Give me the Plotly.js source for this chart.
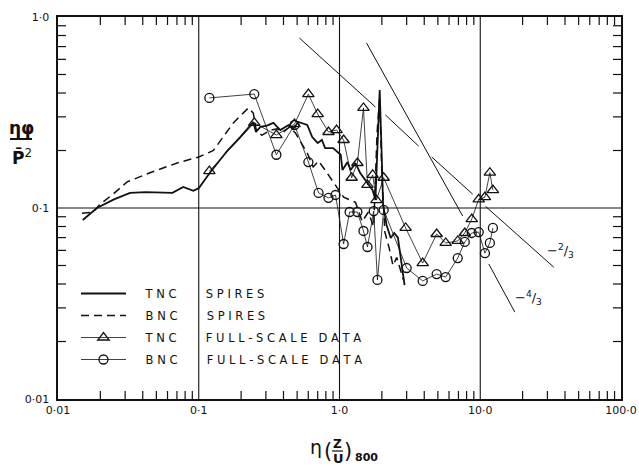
<!DOCTYPE html>
<html><head><meta charset="utf-8">
<script src="https://cdn.plot.ly/plotly-3.0.1.min.js"></script>
<style>html,body{margin:0;padding:0;background:#fff}#chart{width:639px;height:466px}</style>
</head><body><div id="chart"></div>
<script>
// ---- data (log-log) ----
const tncSpiresX = [0.015,0.0189,0.025,0.0325,0.042,0.053,0.065,0.0776,0.0915,0.1,0.12,0.16,0.197,0.244,0.255,0.274,0.305,0.339,0.38,0.434,0.47,0.51,0.59,0.64,0.70,0.75,0.79,0.90,1.02,1.05,1.14,1.2,1.3,1.4,1.58,1.72,1.80,1.87,1.93,1.99,2.04,2.16,2.31,2.45,2.6,2.75,2.9];
const tncSpiresY = [0.0865,0.1,0.111,0.12,0.121,0.121,0.12,0.129,0.123,0.127,0.153,0.2,0.235,0.282,0.25,0.266,0.27,0.279,0.256,0.272,0.26,0.282,0.272,0.235,0.219,0.227,0.206,0.206,0.19,0.158,0.174,0.158,0.172,0.153,0.135,0.124,0.11,0.22,0.415,0.2,0.104,0.0815,0.0697,0.074,0.07,0.052,0.0395];

const bncSpiresX = [0.0148,0.0177,0.0197,0.0242,0.031,0.045,0.0703,0.1,0.127,0.176,0.225,0.244,0.255,0.28,0.32,0.36,0.40,0.44,0.486,0.59,0.65,0.71,0.79,0.86,1.07,1.3,1.45,1.6,1.75,1.85,1.93,2.0,2.1,2.25,2.4,2.55,2.7,2.85];
const bncSpiresY = [0.094,0.095,0.104,0.117,0.137,0.153,0.172,0.185,0.2,0.279,0.334,0.314,0.26,0.24,0.255,0.26,0.25,0.265,0.247,0.194,0.164,0.176,0.158,0.144,0.114,0.107,0.085,0.095,0.08,0.25,0.38,0.15,0.075,0.062,0.05,0.055,0.048,0.042];

const tncFullX = [0.119,0.248,0.356,0.479,0.601,0.70,0.835,0.953,1.07,1.22,1.34,1.48,1.58,1.72,1.83,2.06,2.95,3.90,4.90,5.68,6.92,7.76,8.7,9.75,10.8,11.7,12.3];
const tncFullY = [0.156,0.279,0.241,0.275,0.395,0.31,0.25,0.256,0.227,0.144,0.172,0.334,0.132,0.149,0.110,0.144,0.0786,0.0515,0.0731,0.0656,0.0672,0.074,0.0875,0.111,0.114,0.153,0.124];

const bncFullX = [0.119,0.248,0.356,0.479,0.601,0.71,0.835,0.937,1.07,1.18,1.34,1.48,1.58,1.75,1.86,2.06,3.0,3.9,4.9,5.68,6.92,7.76,8.7,9.75,10.8,11.7,12.3];
const bncFullY = [0.377,0.395,0.19,0.272,0.174,0.12,0.113,0.117,0.0648,0.0953,0.0953,0.0758,0.0625,0.0964,0.042,0.0977,0.0485,0.0415,0.0451,0.0435,0.0547,0.0664,0.074,0.0748,0.058,0.0656,0.0786];

// reference slope lines (segment end points, broken where they cross the data)
const slope23X = [0.519,1.80,null,2.12,3.65,null,4.52,8.85,null,10.9,33.3];
const slope23Y = [0.776,0.338,null,0.307,0.211,null,0.185,0.118,null,0.102,0.049];
const slope43X = [1.556,7.50,null,11.5,17.6];
const slope43Y = [0.731,0.0908,null,0.0509,0.0285];

const xDecades = [0.01,0.1,1,10,100];
const xDecadeText = ['0·01','0·1','1·0','10·0','100·0'];
const yDecades = [0.01,0.1,1];
const yDecadeText = ['0·01','0·1','1·0'];

const NB = '\u00a0';
const lead = NB.repeat(4);
const legendNames = [
  lead+'T N C'+NB.repeat(8)+'S P I R E S',
  lead+'B N C'+NB.repeat(8)+'S P I R E S',
  lead+'T N C'+NB.repeat(8)+'F U L L - S C A L E'+NB.repeat(3)+'D A T A',
  lead+'B N C'+NB.repeat(8)+'F U L L - S C A L E'+NB.repeat(3)+'D A T A'
];

const ink = '#111';
const F = '"DejaVu Sans", "Liberation Sans", sans-serif';

const traces = [
  {x:tncSpiresX,y:tncSpiresY,mode:'lines',name:legendNames[0],legendgroup:'a',line:{color:ink,width:1.8}},
  {x:bncSpiresX,y:bncSpiresY,mode:'lines',name:legendNames[1],legendgroup:'b',line:{color:ink,width:1.5,dash:'8px,5px'}},
  {x:tncFullX,y:tncFullY,mode:'lines+markers',name:legendNames[2],legendgroup:'c',line:{color:ink,width:0.8},
    marker:{symbol:'triangle-up-open',size:10,color:ink,line:{width:1.3,color:ink}}},
  {x:bncFullX,y:bncFullY,mode:'lines+markers',name:legendNames[3],legendgroup:'d',line:{color:ink,width:0.8},
    marker:{symbol:'circle-open',size:9,color:ink,line:{width:1.3,color:ink}}},
  {x:slope23X,y:slope23Y,mode:'lines',showlegend:false,line:{color:ink,width:1},connectgaps:false},
  {x:slope43X,y:slope43Y,mode:'lines',showlegend:false,line:{color:ink,width:1},connectgaps:false}
];

const L=58,R=18,T=17,B=67,W=639,H=466;
const pw=W-L-R, ph=H-T-B;
const px=v=>(v-L)/pw, py=v=>(H-B-v)/ph;

const ann = (x,y,text,size,extra)=>Object.assign({xref:'paper',yref:'paper',x:px(x),y:py(y),text:text,showarrow:false,
  xanchor:'center',yanchor:'middle',font:{family:F,size:size,color:ink}},extra||{});

// frame decorations: decade grid lines and 2..9 minor ticks on all four sides
const xr=[-2,2], yr=[-2,0];
const fx=v=>(Math.log10(v)-xr[0])/(xr[1]-xr[0]);
const fy=v=>(Math.log10(v)-yr[0])/(yr[1]-yr[0]);
const deco = [];
const gl={color:ink,width:1.1}, tl={color:ink,width:1.2};
xDecades.slice(1,-1).forEach(v=>deco.push({type:'line',layer:'below',xref:'paper',yref:'paper',x0:fx(v),x1:fx(v),y0:0,y1:1,line:gl}));
yDecades.slice(1,-1).forEach(v=>deco.push({type:'line',layer:'below',xref:'paper',yref:'paper',x0:0,x1:1,y0:fy(v),y1:fy(v),line:gl}));
const tx=8/ph, ty=8/pw;
xDecades.slice(0,-1).forEach(d=>{for(let k=2;k<=9;k++){const f=fx(d*k);
  deco.push({type:'line',xref:'paper',yref:'paper',x0:f,x1:f,y0:0,y1:tx,line:tl});
  deco.push({type:'line',xref:'paper',yref:'paper',x0:f,x1:f,y0:1,y1:1-tx,line:tl});}});
yDecades.slice(0,-1).forEach(d=>{for(let k=2;k<=9;k++){const f=fy(d*k);
  deco.push({type:'line',xref:'paper',yref:'paper',x0:0,x1:ty,y0:f,y1:f,line:tl});
  deco.push({type:'line',xref:'paper',yref:'paper',x0:1,x1:1-ty,y0:f,y1:f,line:tl});}});

const axisCommon = {type:'log',tickmode:'array',ticks:'',
  showgrid:false,zeroline:false,showline:true,linecolor:ink,linewidth:1.6,mirror:true,
  tickfont:{family:F,size:11,color:ink}};

const layout = {
  width:W,height:H,margin:{l:L,r:R,t:T,b:B},
  paper_bgcolor:'#fff',plot_bgcolor:'#fff',
  font:{family:F,color:ink},
  xaxis:Object.assign({},axisCommon,{range:xr,tickvals:xDecades,ticktext:xDecadeText}),
  yaxis:Object.assign({},axisCommon,{range:yr,tickvals:yDecades,ticktext:yDecadeText,ticklabelstandoff:5}),
  showlegend:true,
  legend:{x:px(76),y:py(279),xanchor:'left',yanchor:'top',bgcolor:'rgba(255,255,255,0)',
    font:{family:F,size:11.5,color:ink},traceorder:'grouped',tracegroupgap:3,itemwidth:45},
  annotations:[
    ann(21,128,'<b>ηφ</b>',17),
    ann(22,157,'<b>P̄</b><sup>2</sup>',17),
    ann(316,447,'η',19),
    ann(328,451,'(',21),
    ann(337,444,'<b>Z</b>',12),
    ann(338,458,'<b>U</b>',13),
    ann(348,451,')',21),
    ann(353,457,'<b>800</b>',11,{xanchor:'left'}),
    ann(560,251,'−<sup>2</sup>/<sub>3</sub>',13),
    ann(528,298,'−<sup>4</sup>/<sub>3</sub>',13)
  ],
  shapes:deco.concat([
    {type:'line',xref:'paper',yref:'paper',x0:px(10),x1:px(32),y0:py(139),y1:py(139),line:{color:ink,width:2}},
    {type:'line',xref:'paper',yref:'paper',x0:px(332),x1:px(343),y0:py(451),y1:py(451),line:{color:ink,width:1.2}}
  ])
};

Plotly.newPlot('chart',traces,layout,{displayModeBar:false,staticPlot:true});
</script>
</body></html>
